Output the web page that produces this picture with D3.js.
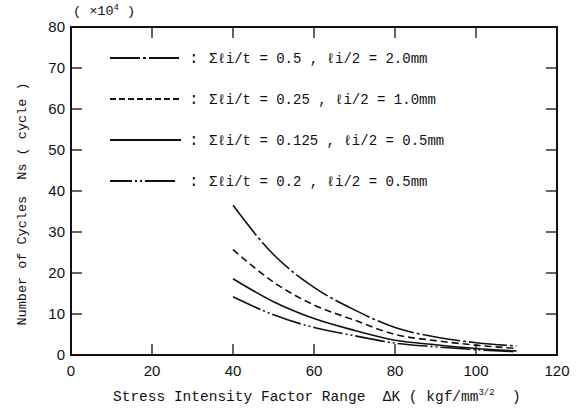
<!doctype html>
<html>
<head>
<meta charset="UTF-8">
<script src="https://d3js.org/d3.v7.min.js"></script>
<style>
  body { margin:0; background:#fff; }
  .mono { font-family:"Liberation Mono","DejaVu Sans Mono",monospace; fill:#111; }
  .num { font-family:"Liberation Sans","DejaVu Sans",sans-serif; fill:#111; font-size:15px; }
</style>
</head>
<body>
<svg id="chart" width="578" height="410"></svg>
<script>
// stress intensity factor range dK
var dK = [40, 50, 60, 70, 80, 90, 100, 110];
// number of cycles Ns (x10^4)
var ns_05   = [36.5, 24.5, 16.5, 11.0, 6.7, 4.4, 3.0, 2.2];
var ns_025  = [25.7, 17.8, 12.2, 8.5, 5.0, 3.5, 2.4, 1.6];
var ns_0125 = [18.6, 13.0, 8.9, 6.0, 3.6, 2.5, 1.6, 1.0];
var ns_02   = [14.2, 9.8, 6.7, 4.7, 2.9, 2.0, 1.3, 0.8];

var legendText = [
  "Σℓi/t = 0.5 , ℓi/2 = 2.0mm",
  "Σℓi/t = 0.25 , ℓi/2 = 1.0mm",
  "Σℓi/t = 0.125 , ℓi/2 = 0.5mm",
  "Σℓi/t = 0.2 , ℓi/2 = 0.5mm"
];
var xTicks = [0, 20, 40, 60, 80, 100, 120];
var yTicks = [0, 10, 20, 30, 40, 50, 60, 70, 80];

var series = [
  {vals: ns_05,   dash: "38,3,3,3"},
  {vals: ns_025,  dash: "7,4"},
  {vals: ns_0125, dash: null},
  {vals: ns_02,   dash: "30,3,2,3,2,3"}
];
var legendDash = ["30,3,3,3,30", "6,3", null, "22,3,2,3,2,3,30"];

var svg = d3.select("#chart");
var L = 71, R = 557, T = 27, B = 355;
var x = d3.scaleLinear().domain([0, 120]).range([L, R]);
var y = d3.scaleLinear().domain([0, 80]).range([B, T]);

// frame
svg.append("rect").attr("x", L).attr("y", T).attr("width", R - L).attr("height", B - T)
  .attr("fill", "none").attr("stroke", "#111").attr("stroke-width", 2);

// inward ticks
var inner = xTicks.slice(1, -1);
svg.selectAll(".tb").data(inner).enter().append("line")
  .attr("x1", d => x(d)).attr("x2", d => x(d)).attr("y1", B).attr("y2", B - 11)
  .attr("stroke", "#111").attr("stroke-width", 1.3);
svg.selectAll(".tt").data(inner).enter().append("line")
  .attr("x1", d => x(d)).attr("x2", d => x(d)).attr("y1", T).attr("y2", T + 11)
  .attr("stroke", "#111").attr("stroke-width", 1.3);
var innerY = yTicks.slice(1, -1);
svg.selectAll(".tl").data(innerY).enter().append("line")
  .attr("x1", L).attr("x2", L + 11).attr("y1", d => y(d)).attr("y2", d => y(d))
  .attr("stroke", "#111").attr("stroke-width", 1.3);
svg.selectAll(".tr").data(innerY).enter().append("line")
  .attr("x1", R).attr("x2", R - 11).attr("y1", d => y(d)).attr("y2", d => y(d))
  .attr("stroke", "#111").attr("stroke-width", 1.3);

// tick labels
svg.selectAll(".xl").data(xTicks).enter().append("text").attr("class", "num")
  .attr("x", d => x(d)).attr("y", B + 21).attr("text-anchor", "middle").text(d => d);
svg.selectAll(".yl").data(yTicks).enter().append("text").attr("class", "num")
  .attr("x", L - 6).attr("y", d => y(d) + 5).attr("text-anchor", "end").text(d => d);

// unit
var u = svg.append("text").attr("class", "mono").attr("x", 73).attr("y", 15).attr("font-size", 13.5);
u.append("tspan").text("( ×10");
u.append("tspan").attr("dy", -5).attr("font-size", 9).text("4");
u.append("tspan").attr("dy", 5).text(" )");

// axis titles
svg.append("text").attr("class", "mono").attr("font-size", 13.5)
  .attr("transform", "translate(26,204) rotate(-90)")
  .attr("text-anchor", "middle").attr("xml:space", "preserve")
  .text("Number of Cycles  Ns ( cycle )");
var xt = svg.append("text").attr("class", "mono").attr("font-size", 14.5)
  .attr("x", 113).attr("y", 401).attr("xml:space", "preserve");
xt.append("tspan").text("Stress Intensity Factor Range  ΔK ( kgf/mm");
xt.append("tspan").attr("dy", -6).attr("font-size", 9).text("3/2");
xt.append("tspan").attr("dy", 6).text("  )");

// curves
var line = d3.line().x((d, i) => x(dK[i])).y(d => y(d)).curve(d3.curveMonotoneX);
svg.selectAll(".curve").data(series).enter().append("path")
  .attr("d", d => line(d.vals)).attr("fill", "none").attr("stroke", "#111")
  .attr("stroke-width", 1.6).attr("stroke-dasharray", d => d.dash);

// legend
var ly = [58, 99, 140, 181];
legendText.forEach(function (t, i) {
  svg.append("line").attr("x1", 110).attr("x2", 181).attr("y1", ly[i]).attr("y2", ly[i])
    .attr("stroke", "#111").attr("stroke-width", 2).attr("stroke-dasharray", legendDash[i]);
  svg.append("text").attr("class", "mono").attr("font-size", 16).attr("x", 189).attr("y", ly[i] + 5).text(":");
  svg.append("text").attr("class", "mono").attr("font-size", 14).attr("x", 209).attr("y", ly[i] + 5)
    .attr("xml:space", "preserve").text(t);
});
</script>
</body>
</html>
